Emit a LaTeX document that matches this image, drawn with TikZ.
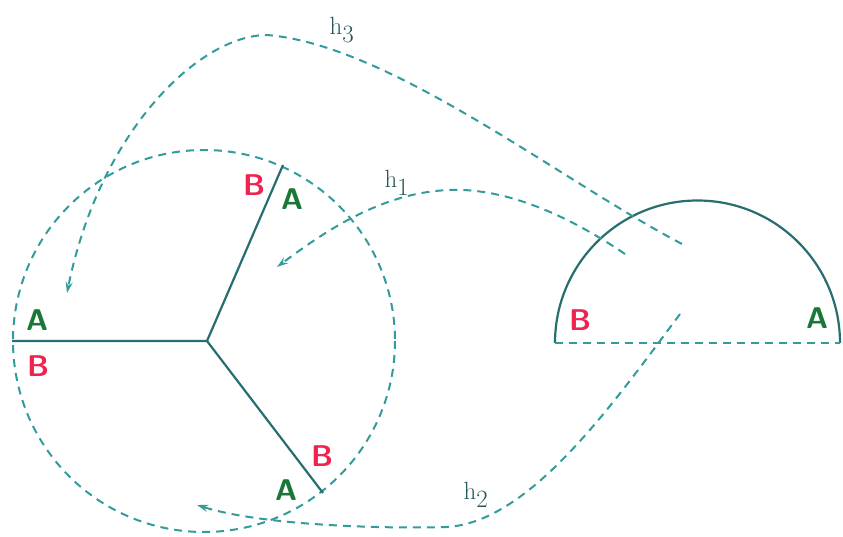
\documentclass[tikz,border=0pt]{standalone}
\usetikzlibrary{arrows.meta}
\definecolor{dashcol}{RGB}{50,155,155}
\definecolor{solidcol}{RGB}{40,110,110}
\definecolor{labcol}{RGB}{35,85,85}
\definecolor{redlab}{RGB}{240,35,80}
\definecolor{greenlab}{RGB}{25,120,55}
\begin{document}
\begin{tikzpicture}[x=1pt,y=-1pt,
  wall/.style={solidcol, line width=2.2pt},
  guide/.style={dashcol, line width=2pt, dash pattern=on 8pt off 6pt},
  hmap/.style={guide, -{Stealth[length=11pt,width=7pt]}},
  sidea/.style={text=greenlab, font=\fontsize{30}{30}\selectfont\sffamily\bfseries, inner sep=0pt},
  sideb/.style={text=redlab, font=\fontsize{30}{30}\selectfont\sffamily\bfseries, inner sep=0pt},
  hlab/.style={text=labcol, font=\fontsize{33}{33}\selectfont, inner sep=0pt}]
\useasboundingbox (0,0) rectangle (843,537);

% three-spoke star inside the dashed disc
\coordinate (c) at (207,341);
\coordinate (e1) at (12,341);
\coordinate (e2) at (283,165);
\coordinate (e3) at (323,493);
\draw[guide] (204,341) circle[radius=191];
\draw[wall] (e1) -- (c) -- (e2);
\draw[wall] (c) -- (e3);

% half disc on the right
\coordinate (sL) at (555,343);
\coordinate (sR) at (840,343);
\draw[wall] (sL) arc[start angle=180, end angle=360, radius=142.5];
\draw[guide] (sL) -- (sR);

% edge labels
\node[sidea] (a1) at (37,320) {A};
\node[sideb] (b1) at (38,366) {B};
\node[sideb] (b2) at (254,185) {B};
\node[sidea] (a2) at (292,199) {A};
\node[sideb] (b3) at (322,456) {B};
\node[sidea] (a3) at (286,490) {A};
\node[sideb] (b4) at (580,320) {B};
\node[sidea] (a4) at (817,318) {A};

% gluing maps
\coordinate (s3) at (682,244);
\coordinate (t3) at (67,293);
\coordinate (s1) at (625,254);
\coordinate (t1) at (277,267);
\coordinate (s2) at (680,314);
\coordinate (t2) at (197,505);
\draw[hmap] (s3) .. controls (560,180) and (390,45) .. (267,35)
  .. controls (200,35) and (100,130) .. (t3);
\draw[hmap] (s1) .. controls (560,210) and (500,188) .. (450,190)
  .. controls (380,192) and (320,235) .. (t1);
\draw[hmap] (s2) .. controls (612,405) and (530,522) .. (447,527)
  .. controls (380,529) and (260,525) .. (t2);

\node[hlab] (h3) at (342,30) {$\mathrm{h}_3$};
\node[hlab] (h1) at (397,183) {$\mathrm{h}_1$};
\node[hlab] (h2) at (476,495) {$\mathrm{h}_2$};
\end{tikzpicture}
\end{document}
